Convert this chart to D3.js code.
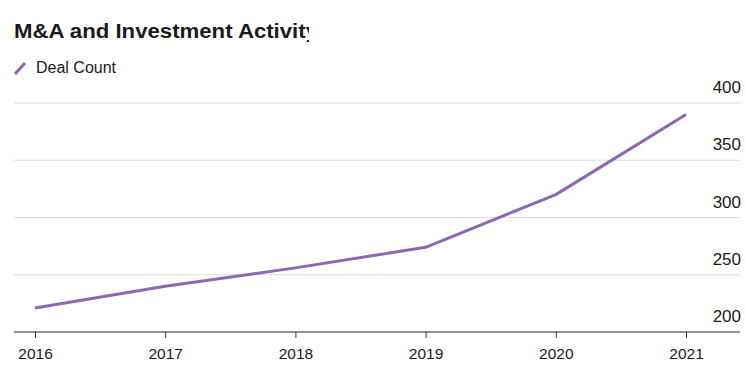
<!DOCTYPE html>
<html lang="en">
<head>
<meta charset="utf-8">
<script src="https://d3js.org/d3.v7.min.js"></script>
<style>
  body { margin: 0; background: #fff; }
  text { font-family: "Liberation Sans", Arial, sans-serif; fill: #1a1a1a; }
</style>
</head>
<body>
<div id="chart"></div>
<script>
    // data
    const years = ["2016", "2017", "2018", "2019", "2020", "2021"];
    const dealCount = [221, 240, 256, 274, 320, 390];
    const yTicks = [200, 250, 300, 350, 400];

    const W = 746, H = 370;
    let margin = {top: 103, right: 6, bottom: 38, left: 14};

    let svg = d3.select("#chart").append("svg")
      .attr("width", W)
      .attr("height", H);

    // title, cut off at the right like the original
    svg.append("clipPath").attr("id", "titleclip")
      .append("rect").attr("x", 0).attr("y", 0).attr("width", 309).attr("height", 50);
    svg.append("text")
      .attr("x", 14).attr("y", 38)
      .attr("clip-path", "url(#titleclip)")
      .attr("textLength", 304)
      .attr("lengthAdjust", "spacingAndGlyphs")
      .style("font-size", "20px").style("font-weight", "bold")
      .text("M&A and Investment Activity");

    // legend
    svg.append("line")
      .attr("x1", 15).attr("y1", 74).attr("x2", 25).attr("y2", 63)
      .attr("stroke", "#8c67b4").attr("stroke-width", 3);
    svg.append("text")
      .attr("x", 36).attr("y", 73)
      .style("font-size", "16px")
      .text("Deal Count");

    let x = d3.scalePoint()
      .domain(years)
      .range([35, 686]);

    let y = d3.scaleLinear()
      .domain([200, 400])
      .range([332, 103]);

    // gridlines + right labels
    let grid = svg.append("g");
    grid.selectAll("line")
      .data(yTicks.filter(d => d !== 200))
      .join("line")
      .attr("x1", margin.left).attr("x2", W - margin.right)
      .attr("y1", d => y(d)).attr("y2", d => y(d))
      .attr("stroke", "#dedede").attr("stroke-width", 1.2);
    grid.selectAll("text")
      .data(yTicks)
      .join("text")
      .attr("x", 741)
      .attr("y", d => y(d) - 10)
      .attr("text-anchor", "end")
      .style("font-size", "17px")
      .text(d => d);

    // x axis
    let xAxis = svg.append("g")
      .attr("transform", "translate(0," + y(200) + ")")
      .call(d3.axisBottom(x).tickSize(6).tickPadding(10).tickSizeOuter(0));
    xAxis.select(".domain").remove();
    xAxis.append("line")
      .attr("x1", margin.left).attr("x2", W - margin.right)
      .attr("stroke", "#222").attr("stroke-width", 1.2);
    xAxis.selectAll(".tick line").attr("stroke", "#333");
    xAxis.selectAll(".tick text")
      .style("font-size", "15.5px")
      .style("font-family", "'Liberation Sans', Arial, sans-serif")
      .attr("fill", "#1a1a1a");

    // the line
    svg.append("path")
      .datum(dealCount)
      .attr("fill", "none")
      .attr("stroke", "#8c67b4")
      .attr("stroke-width", 3)
      .attr("stroke-linejoin", "round")
      .attr("d", d3.line()
        .x((d, i) => x(years[i]))
        .y(d => y(d)));
</script>
</body>
</html>
